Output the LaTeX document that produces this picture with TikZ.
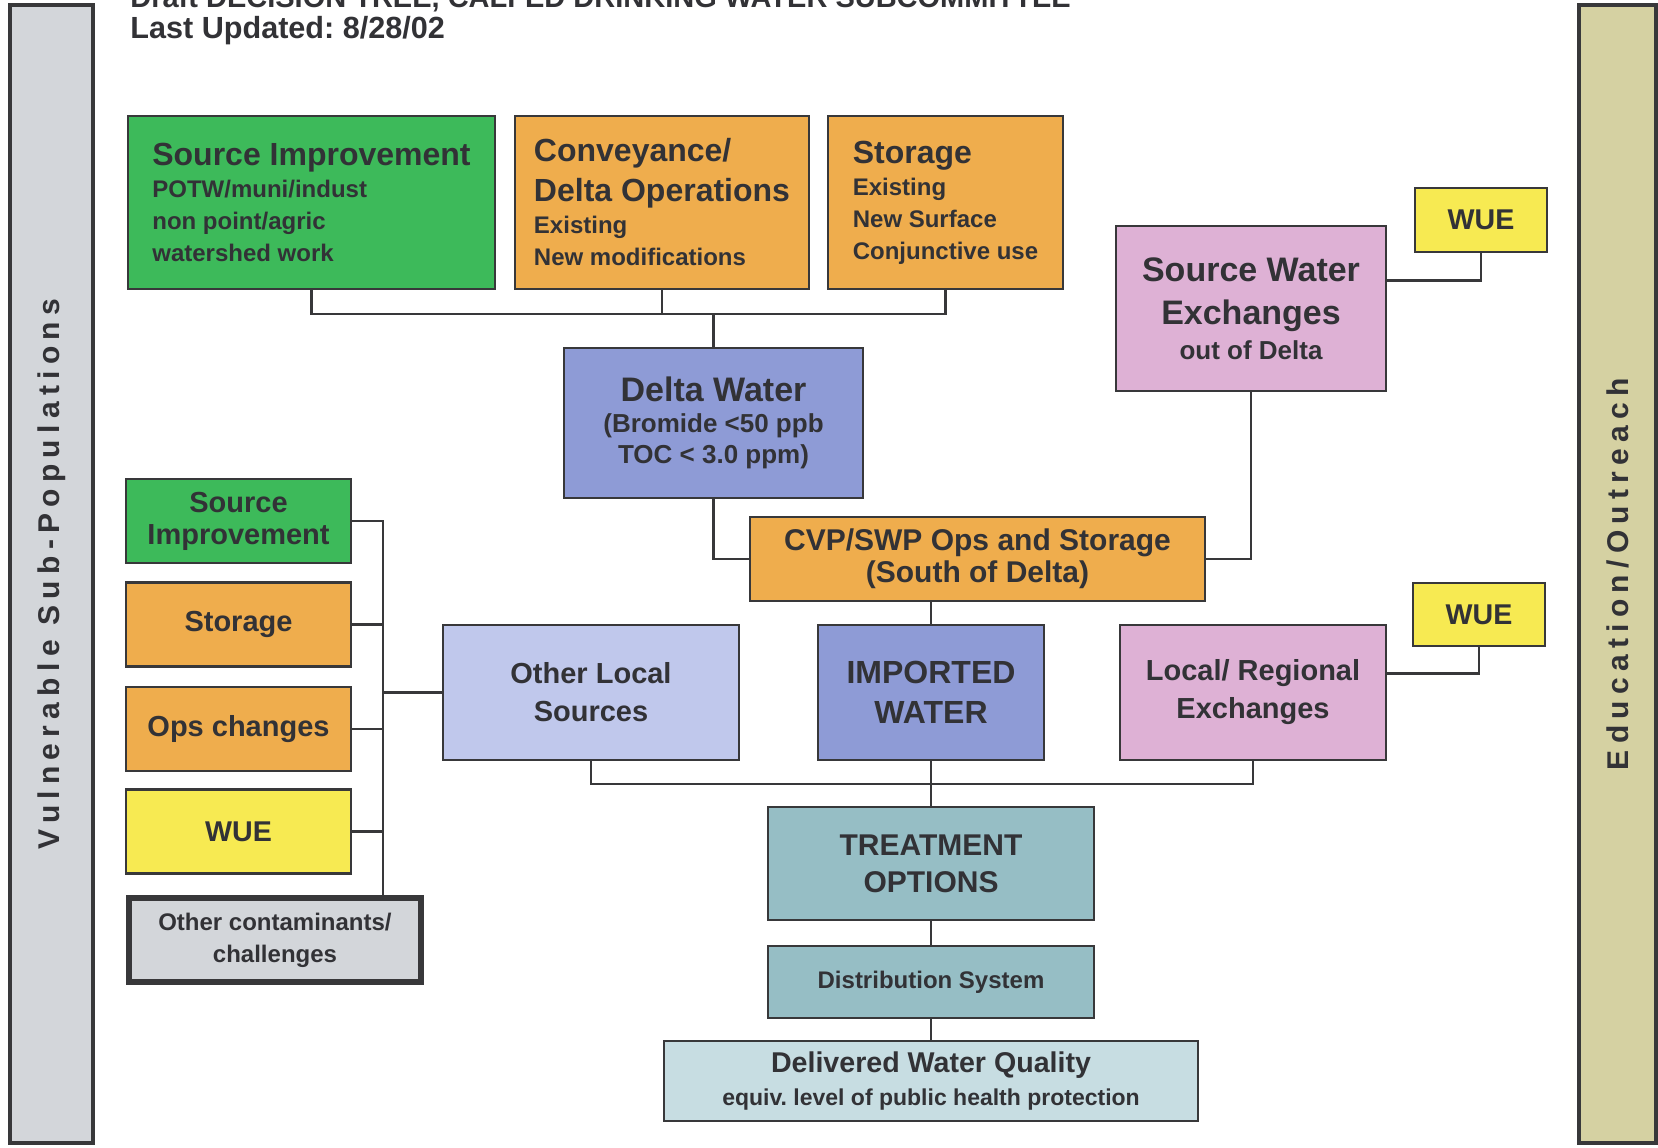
\documentclass[tikz,border=0pt]{standalone}
\usepackage{fontspec}
\setmainfont{Liberation Sans}
\usepackage{tikz}
\usetikzlibrary{positioning}
\frenchspacing
\definecolor{greenSrc}{RGB}{61,186,90}
\definecolor{orangeOps}{RGB}{239,173,77}
\definecolor{blueDelta}{RGB}{142,155,214}
\definecolor{blueLocal}{RGB}{192,200,236}
\definecolor{pinkExch}{RGB}{222,177,213}
\definecolor{yellowWue}{RGB}{247,234,82}
\definecolor{tealTreat}{RGB}{150,190,197}
\definecolor{tealPale}{RGB}{199,221,226}
\definecolor{greyBox}{RGB}{211,214,218}
\definecolor{khakiBar}{RGB}{213,209,162}
\definecolor{greyLine}{RGB}{56,56,58}
\definecolor{greyText}{RGB}{50,50,54}
\newcommand{\fs}[2]{\fontsize{#1}{#2}\selectfont}
\tikzset{
  box/.style={draw=greyLine, line width=1.3pt, text=greyText, align=center, inner sep=2pt, font=\bfseries},
  listbox/.style={box, align=left, font=\bfseries\fs{12}{16}},
  wire/.style={draw=greyLine, line width=1.3pt},
  sidebar/.style={draw=greyLine, line width=2pt, text=greyText, rotate=90, minimum width=569pt,
                  font=\bfseries\fs{15}{18}\addfontfeatures{LetterSpace=21}}
}

\begin{document}
\begin{tikzpicture}[x=0.5pt, y=-0.5pt]
\useasboundingbox (0,0) rectangle (1658,1147);
\clip (0,0) rectangle (1658,1147);

% side bars
\node[sidebar, fill=greyBox, minimum height=41.5pt] (vuln) at (51.5,574) {Vulnerable Sub-Populations};
\node[sidebar, fill=khakiBar, minimum height=38.5pt] (edu) at (1617.5,574) {Education/Outreach};

% heading
\node[anchor=base west, inner sep=0, text=greyText, font=\bfseries\fs{14.5}{18}] (title) at (130,7) {Draft DECISION TREE, CALFED DRINKING WATER SUBCOMMITTEE};
\node[anchor=base west, inner sep=0, text=greyText, font=\bfseries\fs{15.3}{18}] (updated) at (130,38) {Last Updated: 8/28/02};

% upstream of the Delta
\node[listbox, fill=greenSrc, minimum width=183.5pt, minimum height=86.5pt] (srcImp) at (311.5,202.5)
  {{\fs{16}{16}Source Improvement}\\ POTW/muni/indust\\ non point/agric\\ watershed work};
\node[listbox, fill=orangeOps, minimum width=147pt, minimum height=86.5pt] (convey) at (662,202.5)
  {{\fs{16}{16}Conveyance/}\\[4pt] {\fs{16}{16}Delta Operations}\\ Existing\\ New modifications};
\node[listbox, fill=orangeOps, minimum width=117.5pt, minimum height=86.5pt] (storTop) at (945.5,202.5)
  {{\fs{16}{16}Storage}\\ Existing\\ New Surface\\ Conjunctive use};

\node[box, fill=blueDelta, minimum width=149.5pt, minimum height=75pt, font=\bfseries\fs{13}{15.5}] (delta) at (713.5,423)
  {{\fs{17}{17}Delta Water}\\ (Bromide <50 ppb\\ TOC < 3.0 ppm)};
\node[box, fill=pinkExch, minimum width=135pt, minimum height=82.5pt, font=\bfseries\fs{13}{17.5}] (swe) at (1251,308.5)
  {{\fs{17}{17}Source Water}\\[4pt] {\fs{17}{17}Exchanges}\\ out of Delta};
\node[box, fill=yellowWue, minimum width=66pt, minimum height=32pt, font=\bfseries\fs{14.3}{16}] (wueTop) at (1481,220) {WUE};

\node[box, fill=orangeOps, minimum width=227.5pt, minimum height=42pt, font=\bfseries\fs{15}{16}] (cvp) at (977.5,559)
  {CVP/SWP Ops and Storage\\ (South of Delta)};

% supply row
\node[box, fill=blueLocal, minimum width=148pt, minimum height=67.5pt, font=\bfseries\fs{14.5}{19}] (ols) at (591,692.5) {Other Local\\ Sources};
\node[box, fill=blueDelta, minimum width=113pt, minimum height=67.5pt, font=\bfseries\fs{16}{20}] (imported) at (931,692.5) {IMPORTED\\ WATER};
\node[box, fill=pinkExch, minimum width=133pt, minimum height=67.5pt, font=\bfseries\fs{14.5}{19}] (lre) at (1253,692.5) {Local/ Regional\\ Exchanges};
\node[box, fill=yellowWue, minimum width=66pt, minimum height=31.5pt, font=\bfseries\fs{14.3}{16}] (wueMid) at (1479,614.5) {WUE};

% treatment chain
\node[box, fill=tealTreat, minimum width=163pt, minimum height=56.5pt, font=\bfseries\fs{15}{18.5}] (treat) at (931,863.5) {TREATMENT\\ OPTIONS};
\node[box, fill=tealTreat, minimum width=163pt, minimum height=36pt, font=\bfseries\fs{12}{14}] (dist) at (931,982) {Distribution System};
\node[box, fill=tealPale, minimum width=267pt, minimum height=40pt, font=\bfseries\fs{11.5}{17}] (deliv) at (931,1081)
  {{\fs{14.3}{17}Delivered Water Quality}\\ equiv. level of public health protection};

% local options
\node[box, fill=greenSrc, minimum width=112.5pt, minimum height=42pt, font=\bfseries\fs{14.5}{16}] (srcImpL) at (238.5,521) {Source\\ Improvement};
\node[box, fill=orangeOps, minimum width=112.5pt, minimum height=42pt, font=\bfseries\fs{14.5}{16}] (storL) at (238.5,624.5) {Storage};
\node[box, fill=orangeOps, minimum width=112.5pt, minimum height=42pt, font=\bfseries\fs{14.5}{16}] (opsL) at (238.5,729) {Ops changes};
\node[box, fill=yellowWue, minimum width=112.5pt, minimum height=42pt, font=\bfseries\fs{14.3}{16}] (wueL) at (238.5,831.5) {WUE};
\node[box, fill=greyBox, line width=3pt, minimum width=146pt, minimum height=42pt, font=\bfseries\fs{12}{16}] (other) at (275,940) {Other contaminants/\\ challenges};

% connectors
\coordinate (topJoin) at (713.5,314);
\draw[wire] (srcImp.south) |- (topJoin) -| (storTop.south);
\draw[wire] (convey.south) -- (convey.south |- topJoin);
\draw[wire] (topJoin) -- (delta.north);
\draw[wire] (delta.south) |- (cvp.west);
\draw[wire] (swe.south) |- (cvp.east);
\draw[wire] ([yshift=14pt]swe.east) -| (wueTop.south);
\draw[wire] (imported.north |- cvp.south) -- (imported.north);
\draw[wire] ([yshift=9.5pt]lre.east) -| (wueMid.south);

\coordinate (botJoin) at (931,784);
\draw[wire] (ols.south) |- (botJoin) -| (lre.south);
\draw[wire] (imported.south) -- (treat.north);
\draw[wire] (treat.south) -- (dist.north);
\draw[wire] (dist.south) -- (deliv.north);

\coordinate (leftJoin) at (383,692.5);
\draw[wire] (srcImpL.east) -| (leftJoin |- other.north);
\foreach \n in {storL,opsL,wueL}
  \draw[wire] (\n.east) -- (\n.east -| leftJoin);
\draw[wire] (leftJoin) -- (ols.west);

\end{tikzpicture}
\end{document}
